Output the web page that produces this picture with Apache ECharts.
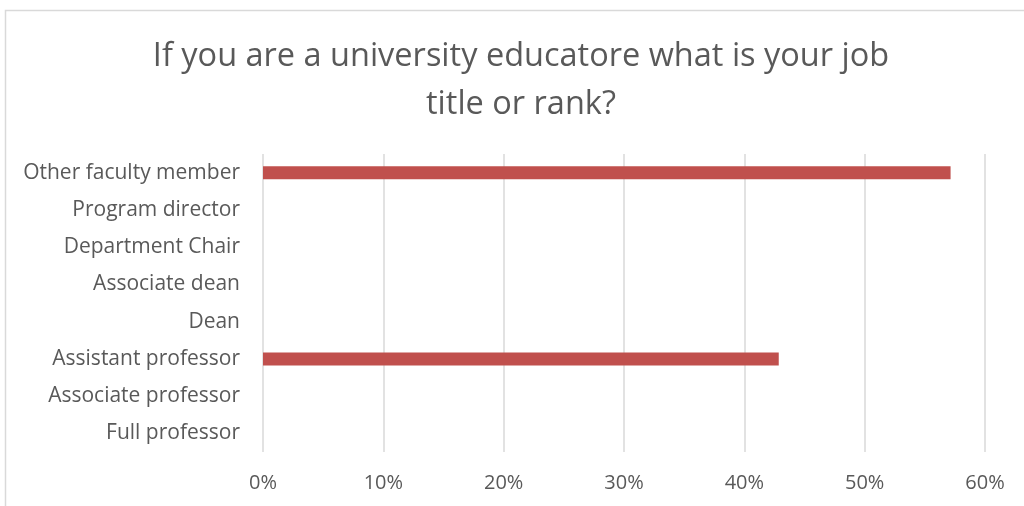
<!DOCTYPE html>
<html>
<head>
<meta charset="utf-8">
<script src="https://cdn.jsdelivr.net/npm/echarts@6/dist/echarts.min.js"></script>
<style>
  html, body { margin: 0; padding: 0; background: #ffffff; }
  #chart { width: 1024px; height: 506px; }
</style>
</head>
<body>
<div id="chart"></div>
<script>
// Survey answers, listed bottom to top as drawn on the category axis
const categories = [
  'Full professor',
  'Associate professor',
  'Assistant professor',
  'Dean',
  'Associate dean',
  'Department Chair',
  'Program director',
  'Other faculty member'
];
// Share of respondents per job title (fraction of 1)
const shares = [0, 0, 0.4286, 0, 0, 0, 0, 0.5714];
// Percentage axis ticks
const tickMin = 0;
const tickMax = 0.6;
const tickStep = 0.1;

const titleText = 'If you are a university educatore what is your job\ntitle or rank?';

const chart = echarts.init(document.getElementById('chart'), null, { renderer: 'canvas' });

chart.setOption({
  backgroundColor: '#ffffff',
  animation: false,
  title: {
    text: titleText,
    left: 516,
    top: 28,
    textAlign: 'center',
    textStyle: {
      fontFamily: 'Open Sans',
      fontSize: 32.5,
      fontWeight: 'normal',
      color: '#595959',
      lineHeight: 48
    }
  },
  graphic: [{
    type: 'rect',
    shape: { x: 5.5, y: 10.5, width: 1030, height: 520 },
    style: { fill: 'none', stroke: '#d9d9d9', lineWidth: 1.5 },
    silent: true
  }],
  grid: {
    left: 263,
    right: 39,
    top: 154,
    bottom: 54,
    containLabel: false
  },
  xAxis: {
    type: 'value',
    min: tickMin,
    max: tickMax,
    interval: tickStep,
    axisLine: { show: false },
    axisTick: { show: false },
    axisLabel: {
      margin: 21,
      fontFamily: 'Open Sans',
      fontSize: 20,
      color: '#595959',
      formatter: v => Math.round(v * 100) + '%'
    },
    splitLine: { show: true, lineStyle: { color: '#d9d9d9', width: 1.5 } }
  },
  yAxis: {
    type: 'category',
    data: categories,
    axisLine: { show: false },
    axisTick: { show: false },
    splitLine: { show: false },
    axisLabel: {
      margin: 23,
      fontFamily: 'Open Sans',
      fontSize: 21,
      color: '#595959'
    }
  },
  series: [{
    type: 'bar',
    data: shares,
    barWidth: 13,
    itemStyle: { color: '#C0504D' }
  }]
});
</script>
</body>
</html>
